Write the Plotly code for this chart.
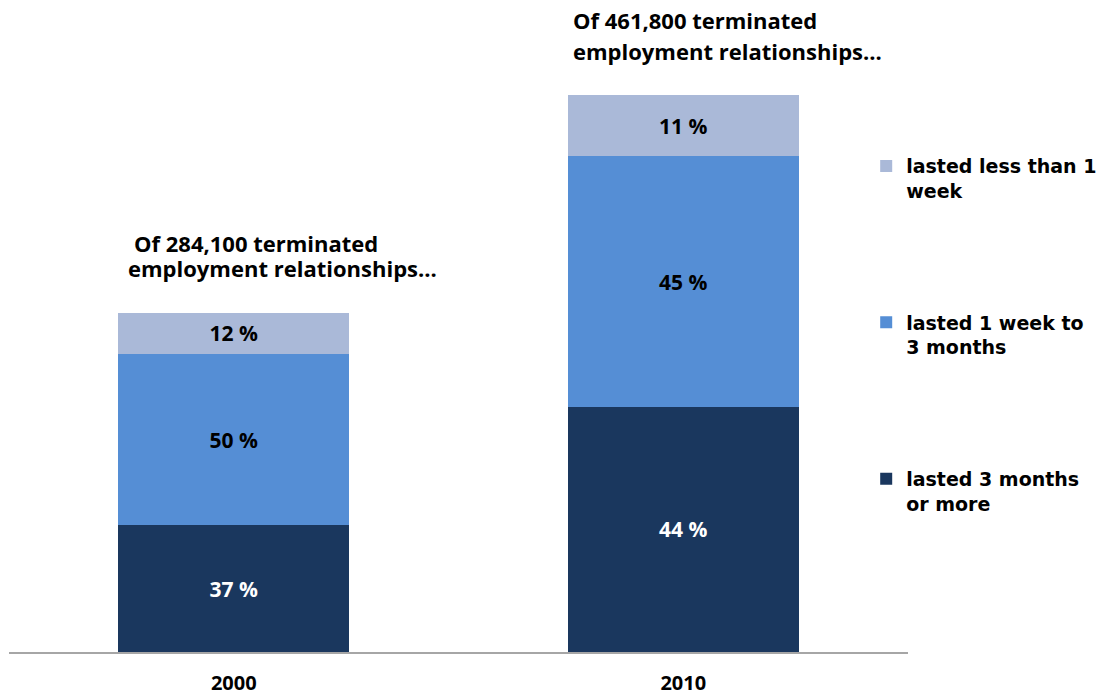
import plotly.graph_objects as go

years = ["2000", "2010"]
totals_text = ["Of 284,100 terminated", "Of 461,800 terminated"]
series_names = ["lasted 3 months<br>or more", "lasted 1 week to<br>3 months", "lasted less than 1<br>week"]
# values in thousands of terminated employment relationships
long_vals = [105.1, 203.2]
mid_vals = [142.1, 207.8]
short_vals = [34.1, 50.8]
long_pct = ["37 %", "44 %"]
mid_pct = ["50 %", "45 %"]
short_pct = ["12 %", "11 %"]

colors = ["#1A375E", "#558ED5", "#AAB9D8"]
text_colors = ["#FFFFFF", "#000000", "#000000"]
ranks = [3, 2, 1]

FONT = "Open Sans"
LEG_FONT = "DejaVu Sans"

xpos = list(range(len(years)))

fig = go.Figure()
for i, (name, vals, txt) in enumerate(zip(series_names, [long_vals, mid_vals, short_vals],
                                           [long_pct, mid_pct, short_pct])):
    fig.add_trace(go.Bar(
        x=xpos, y=vals, name=name, text=txt,
        textposition="inside", insidetextanchor="middle", textangle=0,
        textfont=dict(family=FONT, size=21, color=text_colors[i], weight="bold"),
        marker=dict(color=colors[i], line=dict(width=0)),
        width=0.514,
        legendgroup=f"g{i}", legendrank=ranks[i],
    ))

PLOT_TOP = 20
PLOT_H = 632

# annotations above bars (two lines each)
line1_y = [243, 20]
line2_y = [268, 51]
xshift = [-107, -111]
for k in xpos:
    for txt, yy in [(totals_text[k], line1_y[k]), ("employment relationships...", line2_y[k])]:
        fig.add_annotation(
            x=k, xref="x", y=1 - (yy - PLOT_TOP) / PLOT_H, yref="paper",
            xanchor="left", yanchor="middle",
            xshift=xshift[k] + (6 if (k == 0 and txt.startswith("Of")) else 0),
            text=txt, showarrow=False, align="left", borderpad=0,
            font=dict(family=FONT, size=22, color="#000000", weight="bold"),
        )

fig.update_layout(
    width=1106, height=695,
    margin=dict(l=9, r=198, t=PLOT_TOP, b=43, autoexpand=False),
    paper_bgcolor="white", plot_bgcolor="white",
    barmode="stack",
    showlegend=True,
    legend=dict(
        x=0.9535, xanchor="left", y=0.799, yanchor="top",
        traceorder="grouped", tracegroupgap=104,
        valign="top",
        font=dict(family=LEG_FONT, size=19, color="#000000", weight="bold"),
        bgcolor="rgba(0,0,0,0)",
    ),
    xaxis=dict(
        type="linear", range=[-0.5, 1.5],
        tickmode="array", tickvals=xpos, ticktext=years,
        showline=True, linecolor="#A6A6A6", linewidth=2,
        ticks="outside", ticklen=12, tickcolor="rgba(0,0,0,0)",
        tickfont=dict(family=FONT, size=20, color="#000000", weight="bold"),
        showgrid=False, zeroline=False, fixedrange=True,
    ),
    yaxis=dict(
        range=[0, 524], visible=False, showgrid=False, zeroline=False, fixedrange=True,
    ),
)

fig.write_html("out.html", config={"displayModeBar": False},
               post_script="document.body.style.margin='0';")
